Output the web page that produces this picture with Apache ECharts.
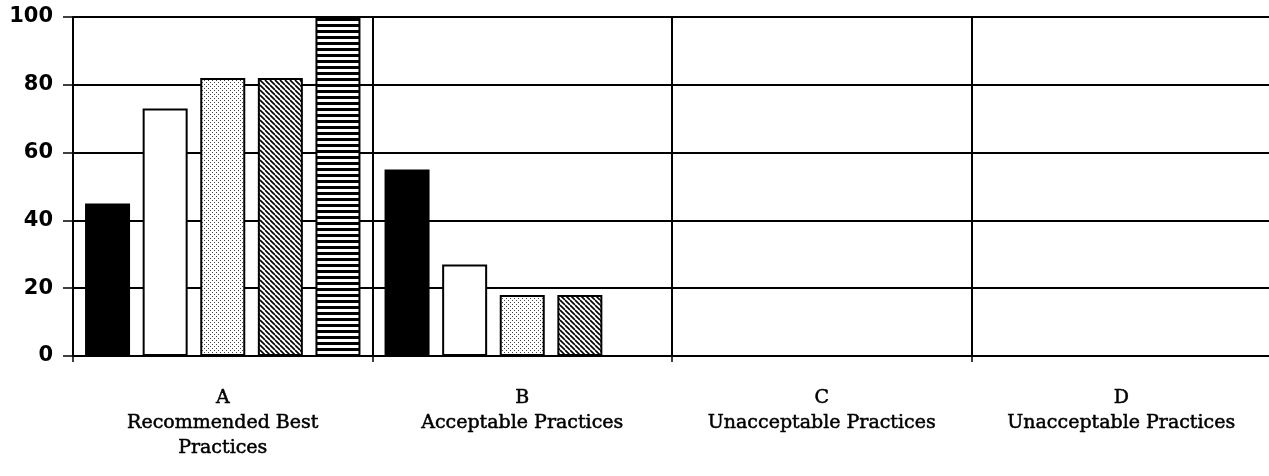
<!DOCTYPE html>
<html>
<head>
<meta charset="utf-8">
<script src="https://cdn.jsdelivr.net/npm/echarts@6/dist/echarts.min.js"></script>
<style>
html, body { margin: 0; padding: 0; background: #fff; }
#chart { width: 1269px; height: 476px; }
</style>
</head>
<body>
<div id="chart"></div>
<script>
// data
const categories = [
	'A\nRecommended Best\nPractices',
	'B\nAcceptable Practices',
	'C\nUnacceptable Practices',
	'D\nUnacceptable Practices'
]
const solidValues = [45, 55, 0, 0]
const whiteValues = [73, 27, 0, 0]
const dottedValues = [82, 18, 0, 0]
const hatchedValues = [82, 18, 0, 0]
const stripedValues = [100, 0, 0, 0]
const yTicks = [0, 20, 40, 60, 80, 100]

// fill patterns drawn on small canvases
function makePattern(kind) {
	const c = document.createElement('canvas')
	const ctx = c.getContext('2d')
	if (kind === 'dots') {
		c.width = 4; c.height = 4
		ctx.fillStyle = '#fff'
		ctx.fillRect(0, 0, 4, 4)
		ctx.fillStyle = '#444'
		ctx.fillRect(0, 0, 1, 1)
		ctx.fillRect(2, 2, 1, 1)
	} else if (kind === 'hatch') {
		c.width = 5; c.height = 5
		ctx.fillStyle = '#fff'
		ctx.fillRect(0, 0, 5, 5)
		ctx.strokeStyle = '#000'
		ctx.lineWidth = 1.6
		ctx.beginPath()
		for (let k = -5; k <= 10; k += 5) {
			ctx.moveTo(k, 0)
			ctx.lineTo(k + 5, 5)
		}
		ctx.stroke()
	} else {
		c.width = 4; c.height = 6
		ctx.fillStyle = '#fff'
		ctx.fillRect(0, 0, 4, 6)
		ctx.fillStyle = '#000'
		ctx.fillRect(0, 0, 4, 3)
	}
	return { image: c, repeat: 'repeat' }
}

function barSeries(name, data, fill) {
	return {
		name: name,
		type: 'bar',
		barWidth: 45,
		barGap: '28%',
		itemStyle: {
			color: fill,
			borderColor: '#000',
			borderWidth: 2
		},
		data: data
	}
}

const chartDom = echarts.init(document.getElementById('chart'))
const option = {
	backgroundColor: '#fff',
	animation: false,
	grid: {
		left: 73,
		top: 17,
		bottom: 120,
		width: 1198,
		outerBoundsMode: 'none'
	},
	xAxis: {
		type: 'category',
		data: categories,
		axisLine: { lineStyle: { color: '#000', width: 2 } },
		axisTick: { show: true, length: 6, lineStyle: { color: '#000', width: 1.5 } },
		splitLine: { show: true, lineStyle: { color: '#000', width: 2 } },
		axisLabel: {
			color: '#000',
			fontFamily: 'DejaVu Serif',
			fontSize: 19,
			lineHeight: 25,
			margin: 30,
			interval: 0,
			textBorderColor: '#000',
			textBorderWidth: 0.5
		}
	},
	yAxis: {
		type: 'value',
		min: yTicks[0],
		max: yTicks[yTicks.length - 1],
		interval: 20,
		axisLine: { show: true, lineStyle: { color: '#000', width: 2 } },
		axisTick: { show: true, length: 10, lineStyle: { color: '#000', width: 1.5 } },
		splitLine: { show: true, lineStyle: { color: '#000', width: 1.8 } },
		axisLabel: {
			color: '#000',
			fontFamily: 'DejaVu Sans',
			fontWeight: 'bold',
			fontSize: 21,
			margin: 20
		}
	},
	series: [
		barSeries('Series 1', solidValues, '#000'),
		barSeries('Series 2', whiteValues, '#fff'),
		barSeries('Series 3', dottedValues, makePattern('dots')),
		barSeries('Series 4', hatchedValues, makePattern('hatch')),
		barSeries('Series 5', stripedValues, makePattern('stripes'))
	]
}
chartDom.setOption(option, true)
</script>
</body>
</html>
